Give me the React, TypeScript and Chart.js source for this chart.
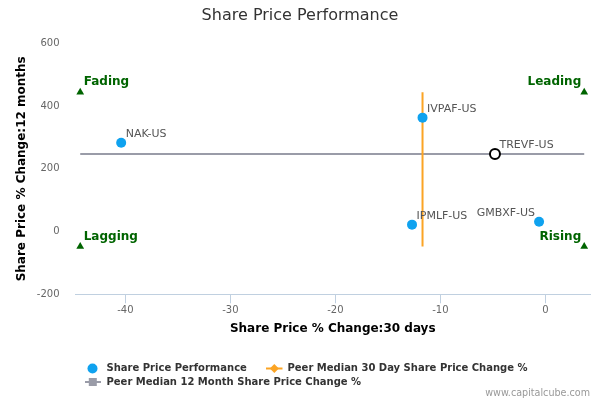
import React, { useEffect, useRef } from "react";
import { Chart, registerables } from "chart.js";

Chart.register(...registerables);

// axis extents and ticks
const xTicks = [-40, -30, -20, -10, 0];
const yTicks = [-200, 0, 200, 400, 600];
const xMin = -44.75;
const xMax = 4.25;
const yMin = -200;
const yMax = 600;

// peers (blue dots)
const peerNames = ["NAK-US", "IVPAF-US", "IPMLF-US", "GMBXF-US"];
const peerX = [-40.4, -11.7, -12.7, -0.6];
const peerY = [283, 363, 22, 31];

// the company itself (open circle)
const companyName = "TREVF-US";
const companyX = -4.8;
const companyY = 247;

// peer medians
const median30Day = -11.7;
const median12Month = 247;

// quadrant corner markers
const quadrantNames = ["Fading", "Leading", "Lagging", "Rising"];
const quadrantX = [-44.3, 3.7, -44.3, 3.7];
const quadrantY = [444, 444, -48, -48];

const FONT = "'DejaVu Sans', Verdana, sans-serif";
const BLUE = "#0fa2ef";
const ORANGE = "#fba424";
const GREY = "#9a9ca8";
const GREEN = "#006400";

// labels that sit to the left of their point
const leftSideLabels = new Set(["GMBXF-US"]);

const overlay = {
  id: "overlay",
  afterDraw(chart: any) {
    const { ctx, chartArea } = chart;
    const xs = chart.scales.x;
    const ys = chart.scales.y;
    ctx.save();
    ctx.textBaseline = "middle";

    // point labels
    ctx.font = `11px ${FONT}`;
    ctx.fillStyle = "#555";
    const names = [...peerNames, companyName];
    const px = [...peerX, companyX];
    const py = [...peerY, companyY];
    names.forEach((name, i) => {
      const x = xs.getPixelForValue(px[i]);
      const y = ys.getPixelForValue(py[i]);
      if (leftSideLabels.has(name)) {
        ctx.textAlign = "right";
        ctx.fillText(name, x - 4, y - 8.5);
      } else {
        ctx.textAlign = "left";
        ctx.fillText(name, x + 4.5, y - 8.5);
      }
    });

    // quadrant labels
    ctx.font = `bold 12px ${FONT}`;
    ctx.fillStyle = GREEN;
    quadrantNames.forEach((name, i) => {
      const x = xs.getPixelForValue(quadrantX[i]);
      const y = ys.getPixelForValue(quadrantY[i]);
      const right = i % 2 === 1;
      ctx.textAlign = right ? "right" : "left";
      ctx.fillText(name, right ? x - 3 : x + 3.5, y - 10);
    });

    // chart title
    ctx.font = `16px ${FONT}`;
    ctx.fillStyle = "#333";
    ctx.textAlign = "center";
    ctx.fillText("Share Price Performance", 300, 16);

    // axis titles
    ctx.font = `bold 12px ${FONT}`;
    ctx.fillStyle = "#000";
    ctx.fillText(
      "Share Price % Change:30 days",
      (chartArea.left + chartArea.right) / 2,
      328.5
    );
    ctx.save();
    ctx.translate(21.5, (chartArea.top + chartArea.bottom) / 2);
    ctx.rotate(-Math.PI / 2);
    ctx.fillText("Share Price % Change:12 months", 0, 0);
    ctx.restore();

    // legend
    ctx.font = `bold 10px ${FONT}`;
    ctx.fillStyle = "#333";
    ctx.textAlign = "left";
    const r1 = 368.5;
    const r2 = 382;
    ctx.beginPath();
    ctx.arc(92.5, r1, 5, 0, Math.PI * 2);
    ctx.fillStyle = BLUE;
    ctx.fill();
    ctx.fillStyle = "#333";
    ctx.fillText("Share Price Performance", 106.5, r1);

    ctx.strokeStyle = ORANGE;
    ctx.lineWidth = 2;
    ctx.beginPath();
    ctx.moveTo(266, r1);
    ctx.lineTo(282.5, r1);
    ctx.stroke();
    ctx.fillStyle = ORANGE;
    ctx.beginPath();
    ctx.moveTo(274.3, r1 - 4.5);
    ctx.lineTo(278.8, r1);
    ctx.lineTo(274.3, r1 + 4.5);
    ctx.lineTo(269.8, r1);
    ctx.closePath();
    ctx.fill();
    ctx.fillStyle = "#333";
    ctx.fillText("Peer Median 30 Day Share Price Change %", 287.5, r1);

    ctx.strokeStyle = GREY;
    ctx.beginPath();
    ctx.moveTo(85, r2);
    ctx.lineTo(101, r2);
    ctx.stroke();
    ctx.fillStyle = GREY;
    ctx.fillRect(88.8, r2 - 4, 8, 8);
    ctx.fillStyle = "#333";
    ctx.fillText("Peer Median 12 Month Share Price Change %", 106.5, r2);

    // credit
    ctx.font = `9.6px ${FONT}`;
    ctx.fillStyle = "#999";
    ctx.textAlign = "right";
    ctx.fillText("www.capitalcube.com", 590, 393.5);

    ctx.restore();
  },
};

export default function App() {
  const canvasRef = useRef<HTMLCanvasElement>(null);

  useEffect(() => {
    document.body.style.margin = "0";
    if (!canvasRef.current) return;

    const chart = new Chart(canvasRef.current, {
      type: "scatter",
      data: {
        datasets: [
          {
            label: companyName,
            data: [{ x: companyX, y: companyY }],
            pointRadius: 5,
            pointBackgroundColor: "#fff",
            pointBorderColor: "#000",
            pointBorderWidth: 2,
          },
          {
            label: "Share Price Performance",
            data: peerX.map((x, i) => ({ x, y: peerY[i] })),
            pointRadius: 5,
            pointBackgroundColor: BLUE,
            pointBorderWidth: 0,
          },
          {
            label: "Quadrants",
            data: quadrantX.map((x, i) => ({ x, y: quadrantY[i] })),
            pointStyle: "triangle",
            pointRadius: 4.5,
            pointBackgroundColor: GREEN,
            pointBorderColor: GREEN,
            pointBorderWidth: 0,
          },
          {
            label: "Peer Median 30 Day Share Price Change %",
            data: [
              { x: median30Day, y: Math.min(...quadrantY) },
              { x: median30Day, y: Math.max(...quadrantY) },
            ],
            showLine: true,
            borderColor: ORANGE,
            borderWidth: 2,
            pointRadius: 0,
          },
          {
            label: "Peer Median 12 Month Share Price Change %",
            data: [
              { x: Math.min(...quadrantX), y: median12Month },
              { x: Math.max(...quadrantX), y: median12Month },
            ],
            showLine: true,
            borderColor: GREY,
            borderWidth: 2,
            pointRadius: 0,
          },
        ],
      },
      options: {
        animation: false,
        responsive: true,
        maintainAspectRatio: false,
        layout: { padding: { top: 43.3, right: 10, left: 0, bottom: 0 } },
        plugins: {
          legend: { display: false },
          tooltip: { enabled: false },
          title: { display: false },
        },
        scales: {
          x: {
            type: "linear",
            min: xMin,
            max: xMax,
            afterBuildTicks: (scale: any) => {
              scale.ticks = xTicks.map((value) => ({ value }));
            },
            afterFit: (scale: any) => {
              scale.height = 400 - 294.3;
            },
            grid: {
              drawOnChartArea: false,
              drawTicks: true,
              tickLength: 9,
              color: "#C0D0E0",
            },
            border: { color: "#C0D0E0", width: 1 },
            ticks: {
              color: "#666",
              padding: 1,
              maxRotation: 0,
              font: { family: FONT, size: 10 },
            },
          },
          y: {
            type: "linear",
            min: yMin,
            max: yMax,
            afterBuildTicks: (scale: any) => {
              scale.ticks = yTicks.map((value) => ({ value }));
            },
            afterFit: (scale: any) => {
              scale.width = 75.5;
            },
            grid: { display: false, drawTicks: false },
            border: { display: false },
            ticks: {
              color: "#666",
              padding: 16,
              font: { family: FONT, size: 10 },
            },
          },
        },
      },
      plugins: [overlay],
    });

    return () => chart.destroy();
  }, []);

  return (
    <div style={{ position: "relative", width: 600, height: 400, background: "#fff" }}>
      <canvas ref={canvasRef} />
    </div>
  );
}
